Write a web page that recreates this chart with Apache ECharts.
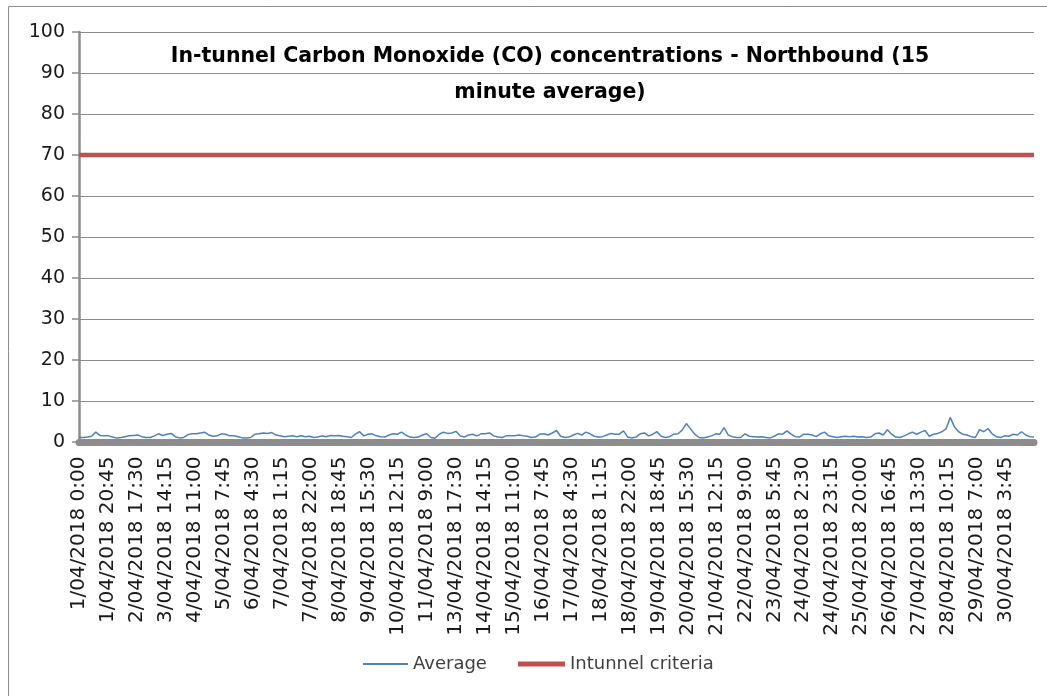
<!DOCTYPE html>
<html>
<head>
<meta charset="utf-8">
<script src="https://cdn.jsdelivr.net/npm/echarts@6/dist/echarts.min.js"></script>
<style>
  html, body { margin: 0; padding: 0; background: #fff; }
  #chart { width: 1047px; height: 696px; }
</style>
</head>
<body>
<div id="chart"></div>
<script>
// 15-minute samples; one stored value every SAMPLE_STEP readings
const SAMPLE_STEP = 12
const LABEL_STEP = 83

const tickLabels = [
  '1/04/2018 0:00', '1/04/2018 20:45', '2/04/2018 17:30', '3/04/2018 14:15',
  '4/04/2018 11:00', '5/04/2018 7:45', '6/04/2018 4:30', '7/04/2018 1:15',
  '7/04/2018 22:00', '8/04/2018 18:45', '9/04/2018 15:30', '10/04/2018 12:15',
  '11/04/2018 9:00', '13/04/2018 17:30', '14/04/2018 14:15', '15/04/2018 11:00',
  '16/04/2018 7:45', '17/04/2018 4:30', '18/04/2018 1:15', '18/04/2018 22:00',
  '19/04/2018 18:45', '20/04/2018 15:30', '21/04/2018 12:15', '22/04/2018 9:00',
  '23/04/2018 5:45', '24/04/2018 2:30', '24/04/2018 23:15', '25/04/2018 20:00',
  '26/04/2018 16:45', '27/04/2018 13:30', '28/04/2018 10:15', '29/04/2018 7:00',
  '30/04/2018 3:45'
]

const avgValues = [
  1.1, 1.1, 1.2, 1.4, 2.4, 1.6, 1.5, 1.5, 1.2, 1.0,
  1.1, 1.3, 1.5, 1.6, 1.7, 1.3, 1.1, 1.1, 1.5, 2.0,
  1.6, 1.9, 2.1, 1.3, 1.0, 1.1, 1.8, 2.0, 2.0, 2.2,
  2.4, 1.7, 1.4, 1.5, 2.0, 1.9, 1.5, 1.5, 1.3, 1.0,
  1.0, 1.1, 1.9, 2.0, 2.2, 2.1, 2.3, 1.7, 1.5, 1.3,
  1.4, 1.5, 1.3, 1.5, 1.3, 1.4, 1.1, 1.2, 1.5, 1.3,
  1.6, 1.5, 1.6, 1.4, 1.3, 1.1, 1.9, 2.5, 1.5, 1.9,
  2.0, 1.5, 1.3, 1.2, 1.7, 2.0, 1.9, 2.4, 1.7, 1.2,
  1.1, 1.2, 1.7, 2.0, 1.1, 0.9, 1.9, 2.4, 2.1, 2.2,
  2.6, 1.5, 1.2, 1.7, 1.9, 1.5, 2.0, 2.0, 2.2, 1.5,
  1.2, 1.1, 1.5, 1.5, 1.5, 1.7, 1.5, 1.4, 1.1, 1.2,
  1.9, 2.0, 1.7, 2.2, 2.8, 1.4, 1.1, 1.2, 1.7, 2.1,
  1.7, 2.4, 2.0, 1.4, 1.2, 1.3, 1.7, 2.1, 1.9, 1.9,
  2.7, 1.2, 1.0, 1.2, 2.0, 2.2, 1.5, 1.9, 2.5, 1.4,
  1.1, 1.3, 1.9, 2.0, 2.9, 4.5, 3.2, 1.9, 1.1, 1.0,
  1.2, 1.5, 2.0, 1.9, 3.5, 1.7, 1.3, 1.1, 1.1, 2.0,
  1.4, 1.3, 1.2, 1.3, 1.1, 1.0, 1.4, 2.0, 1.9, 2.7,
  1.9, 1.3, 1.2, 1.9, 1.9, 1.7, 1.3, 2.0, 2.4, 1.5,
  1.3, 1.1, 1.3, 1.4, 1.3, 1.4, 1.2, 1.3, 1.1, 1.2,
  2.0, 2.2, 1.7, 3.0, 1.9, 1.2, 1.1, 1.5, 2.0, 2.4,
  1.9, 2.4, 2.8, 1.4, 1.9, 2.1, 2.5, 3.2, 6.0, 3.7,
  2.5, 1.9, 1.7, 1.3, 1.1, 3.0, 2.5, 3.3, 2.0, 1.3,
  1.1, 1.5, 1.4, 1.9, 1.7, 2.5, 1.7, 1.3, 1.2
]

const criteriaValue = 70
const seriesNames = ['Average', 'Intunnel criteria']
const titleText = 'In-tunnel Carbon Monoxide (CO) concentrations - Northbound (15\nminute average)'

const lastIndex = (avgValues.length - 1) * SAMPLE_STEP
const avgData = avgValues.map((v, i) => [i * SAMPLE_STEP, v])
const criteriaData = [[0, criteriaValue], [lastIndex, criteriaValue]]

const FONT = 'DejaVu Sans'
const legendText = { fontFamily: FONT, fontSize: 18, color: '#404040' }
const chart = echarts.init(document.getElementById('chart'))

chart.setOption({
  animation: false,
  backgroundColor: '#fff',
  title: {
    text: titleText,
    left: 545,
    top: 34,
    textAlign: 'center',
    textStyle: {
      fontFamily: FONT,
      fontWeight: 'bold',
      fontSize: 20.5,
      lineHeight: 36,
      color: '#000'
    }
  },
  graphic: [{
    type: 'rect',
    shape: { x: 8.5, y: 6.5, width: 1060, height: 720 },
    style: { fill: 'none', stroke: '#8c8c8c', lineWidth: 1 },
    silent: true
  }],
  // one legend per item so each key line gets its own thickness
  legend: [
    {
      left: 358,
      top: 650,
      icon: 'rect',
      itemWidth: 45,
      itemHeight: 2,
      data: [seriesNames[0]],
      textStyle: legendText
    },
    {
      left: 513,
      top: 650,
      icon: 'rect',
      itemWidth: 47,
      itemHeight: 5,
      data: [seriesNames[1]],
      textStyle: legendText
    }
  ],
  grid: { left: 79, right: 13, top: 32, bottom: 254, containLabel: false },
  xAxis: {
    type: 'value',
    min: 0,
    max: lastIndex,
    interval: LABEL_STEP,
    offset: 3.5,
    splitLine: { show: false },
    axisTick: { show: false },
    axisLine: { lineStyle: { color: '#8c8c8c', width: 7 } },
    axisLabel: {
      rotate: 90,
      margin: 11,
      showMaxLabel: true,
      fontFamily: FONT,
      fontSize: 20,
      color: '#1a1a1a',
      formatter: (v) => (v % LABEL_STEP === 0 ? (tickLabels[v / LABEL_STEP] || '') : '')
    }
  },
  yAxis: {
    type: 'value',
    min: 0,
    max: 100,
    interval: 10,
    axisLine: { show: true, lineStyle: { color: '#8c8c8c', width: 2.5 } },
    axisTick: { show: true, length: 7, lineStyle: { color: '#8c8c8c', width: 1.5 } },
    splitLine: { lineStyle: { color: '#8c8c8c', width: 1.2 } },
    axisLabel: {
      margin: 14,
      fontFamily: FONT,
      fontSize: 19,
      color: '#1a1a1a'
    }
  },
  series: [
    {
      name: seriesNames[0],
      type: 'line',
      symbol: 'none',
      data: avgData,
      lineStyle: { color: '#4f81bd', width: 1.5 },
      itemStyle: { color: '#4f81bd' },
      z: 3
    },
    {
      name: seriesNames[1],
      type: 'line',
      symbol: 'none',
      data: criteriaData,
      lineStyle: { color: '#c0504d', width: 4.5 },
      itemStyle: { color: '#c0504d' },
      z: 2
    }
  ]
})
</script>
</body>
</html>
